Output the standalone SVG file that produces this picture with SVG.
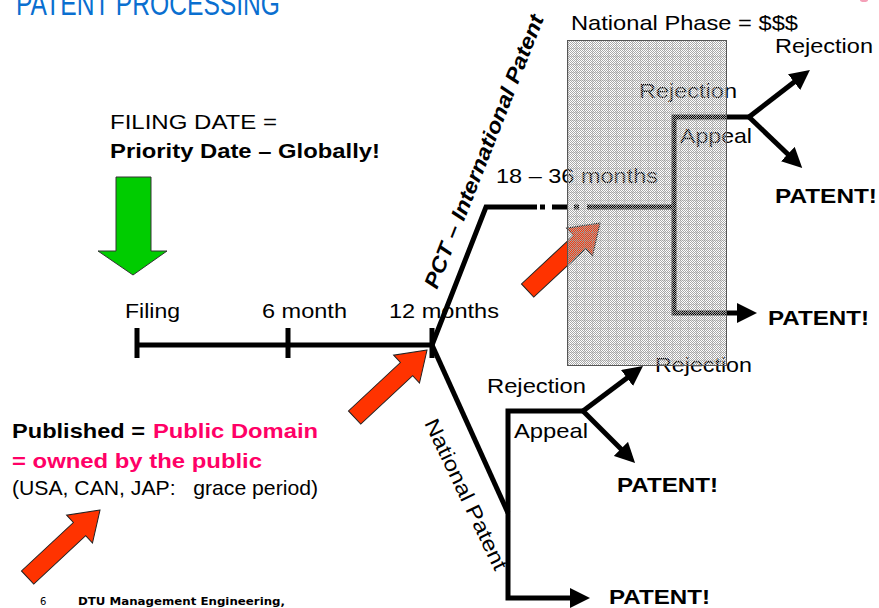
<svg xmlns="http://www.w3.org/2000/svg" width="879" height="608" viewBox="0 0 879 608">
<style>
text{font-family:"Liberation Sans",Arial,sans-serif;font-size:21px;fill:#000}
.b{font-weight:bold}
.pk{fill:#ff0066}
.ln{fill:none;stroke:#000;stroke-width:5;stroke-linejoin:miter}
.red{fill:#ff3300;stroke:#222;stroke-width:1}
</style>
<defs>
<marker id="ah" markerUnits="userSpaceOnUse" markerWidth="20" markerHeight="20" refX="10" refY="10" orient="auto" viewBox="0 0 20 20">
<path d="M0,0 L20,10 L0,20 z" fill="#000"/>
</marker>
<pattern id="dither" width="2" height="2" patternUnits="userSpaceOnUse">
<rect x="0" y="0" width="1" height="1" fill="#a8a8a8"/>
<rect x="1" y="1" width="1" height="1" fill="#a8a8a8"/>
</pattern>
<pattern id="grid" width="8" height="8" patternUnits="userSpaceOnUse">
<rect x="0" y="0" width="8" height="1" fill="#999" fill-opacity="0.3"/>
<rect x="0" y="0" width="1" height="8" fill="#999" fill-opacity="0.3"/>
</pattern>
<polygon id="redArrow" points="0,0 -28,-19 -28,-9 -99,-9 -99,9 -28,9 -28,19"/>
</defs>

<text x="16" y="15" style="font-size:34px;fill:#0a6fd0" textLength="264" lengthAdjust="spacingAndGlyphs">PATENT PROCESSING</text>
<ellipse cx="864" cy="0" rx="4" ry="2" fill="#f4a0b8"/>

<g id="connectors">
<path class="ln" d="M137,345 H432"/>
<path class="ln" d="M137,328 V358 M288,328 V358 M432,328 V358"/>
<path class="ln" d="M432,345 L486,207 H537"/>
<path class="ln" d="M540,207 H545 M552,207 H567 M574,207 H579 M587,207 H674"/>
<path class="ln" d="M749,117 H674 V313 H747" marker-end="url(#ah)"/>
<path class="ln" d="M749,117 L802,76" marker-end="url(#ah)"/>
<path class="ln" d="M749,117 L795,161" marker-end="url(#ah)"/>
<path class="ln" d="M432,345 L508,513"/>
<path class="ln" d="M583,411 H508 V598 H580" marker-end="url(#ah)"/>
<path class="ln" d="M583,411 L635,372" marker-end="url(#ah)"/>
<path class="ln" d="M583,411 L628,456" marker-end="url(#ah)"/>
</g>

<g id="green-arrow">
<polygon points="116,177 151,177 151,251 167,251 133,275 98,251 116,251" fill="#00cc00" stroke="#333" stroke-width="1"/>
</g>
<g id="red-arrow-1"><use href="#redArrow" class="red" transform="translate(427,350) rotate(-43)"/></g>
<g id="red-arrow-2"><use href="#redArrow" class="red" transform="translate(600,223) rotate(-43)"/></g>
<g id="red-arrow-3"><use href="#redArrow" class="red" transform="translate(100,510) rotate(-43)"/></g>

<g id="box-texts">
<text x="639" y="98" textLength="98" lengthAdjust="spacingAndGlyphs">Rejection</text>
<text x="680" y="143" textLength="72" lengthAdjust="spacingAndGlyphs">Appeal</text>
<text x="496" y="183" textLength="162" lengthAdjust="spacingAndGlyphs">18 – 36 months</text>
<text x="655" y="372" textLength="97" lengthAdjust="spacingAndGlyphs">Rejection</text>
</g>

<g id="national-phase-box">
<rect x="567.5" y="40.5" width="159" height="325" fill="url(#dither)"/>
<rect x="567.5" y="40.5" width="159" height="325" fill="url(#grid)" stroke="#555" stroke-width="1"/>
</g>

<g id="labels">
<text x="110" y="129" textLength="167" lengthAdjust="spacingAndGlyphs">FILING DATE =</text>
<text x="110" y="158" class="b" textLength="270" lengthAdjust="spacingAndGlyphs">Priority Date – Globally!</text>
<text x="125" y="318" textLength="55" lengthAdjust="spacingAndGlyphs">Filing</text>
<text x="262" y="318" textLength="85" lengthAdjust="spacingAndGlyphs">6 month</text>
<text x="389" y="318" textLength="110" lengthAdjust="spacingAndGlyphs">12 months</text>
<text transform="translate(437,290) rotate(-68.5)" class="b" style="font-style:italic" textLength="292" lengthAdjust="spacingAndGlyphs">PCT – International Patent</text>
<text transform="translate(424,423) rotate(64.5)" textLength="165" lengthAdjust="spacingAndGlyphs">National Patent</text>
<text x="571" y="30" textLength="227" lengthAdjust="spacingAndGlyphs">National Phase = $$$</text>
<text x="775" y="53" textLength="98" lengthAdjust="spacingAndGlyphs">Rejection</text>
<text x="775" y="203" class="b" textLength="102" lengthAdjust="spacingAndGlyphs">PATENT!</text>
<text x="768" y="325" class="b" textLength="101" lengthAdjust="spacingAndGlyphs">PATENT!</text>
<text x="487" y="393" textLength="99" lengthAdjust="spacingAndGlyphs">Rejection</text>
<text x="514" y="438" textLength="74" lengthAdjust="spacingAndGlyphs">Appeal</text>
<text x="617" y="492" class="b" textLength="101" lengthAdjust="spacingAndGlyphs">PATENT!</text>
<text x="609" y="604" class="b" textLength="101" lengthAdjust="spacingAndGlyphs">PATENT!</text>
<text x="12" y="438" class="b" textLength="133" lengthAdjust="spacingAndGlyphs">Published =</text>
<text x="153" y="438" class="b pk" textLength="165" lengthAdjust="spacingAndGlyphs">Public Domain</text>
<text x="12" y="468" class="b pk" textLength="250" lengthAdjust="spacingAndGlyphs">= owned by the public</text>
<text x="12" y="495" xml:space="preserve" textLength="306" lengthAdjust="spacingAndGlyphs">(USA, CAN, JAP:   grace period)</text>
</g>

<g id="footer">
<text x="40" y="605" style="font-family:'DejaVu Sans',sans-serif;font-size:10px">6</text>
<text x="78" y="605" style="font-family:'DejaVu Sans',sans-serif;font-size:11px;font-weight:bold" textLength="207" lengthAdjust="spacingAndGlyphs">DTU Management Engineering,</text>
</g>
</svg>
